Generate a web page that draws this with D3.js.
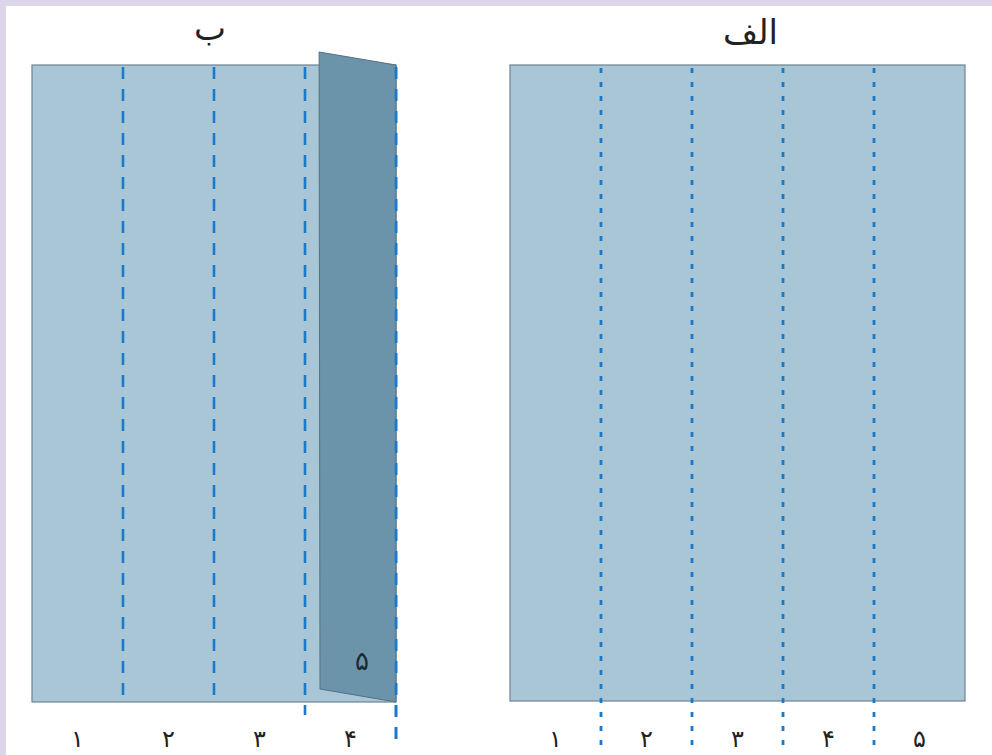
<!DOCTYPE html>
<html><head><meta charset="utf-8">
<script src="https://cdn.jsdelivr.net/npm/d3@7/dist/d3.min.js"></script>
<style>html,body{margin:0;padding:0;background:#fff;}svg{display:block;}</style>
</head><body>
<script>
// Data
const titles = ["ب", "الف"];
const leftLabels = ["۱", "۲", "۳", "۴"];
const rightLabels = ["۱", "۲", "۳", "۴", "۵"];
const foldedLabel = "۵";
const leftFoldIdx = [1, 2, 3, 4];    // fold lines on panel ب (column boundaries)
const rightFoldIdx = [1, 2, 3, 4];   // fold lines on panel الف

const W = 992, H = 755;
const svg = d3.select("body").append("svg").attr("width", W).attr("height", H);

// lavender frame
svg.append("rect").attr("x", 0).attr("y", 0).attr("width", W).attr("height", H).attr("fill", "#ddd6ea");
svg.append("rect").attr("x", 6).attr("y", 6).attr("width", W - 6).attr("height", H - 6).attr("fill", "#ffffff");

const colW = 91;
const xL = d3.scaleLinear().domain([0, 4]).range([32, 32 + 4 * colW]);
const xR = d3.scaleLinear().domain([0, 5]).range([510, 510 + 5 * colW]);
const y = d3.scaleLinear().domain([0, 1]).range([65, 702]);

const fill = "#a9c6d6", stroke = "#6e8290", dash = "#1b79c9";

// Left sheet (ب)
svg.append("rect").attr("x", xL(0)).attr("y", y(0)).attr("width", xL(4) - xL(0)).attr("height", y(1) - y(0))
  .attr("fill", fill).attr("stroke", stroke).attr("stroke-width", 1.2);

// left dashed lines
leftFoldIdx.forEach(i => {
  const yEnd = i === 4 ? 742 : (i === 3 ? 715 : y(1));
  svg.append("line").attr("x1", xL(i)).attr("x2", xL(i)).attr("y1", y(0) + 2).attr("y2", yEnd)
    .attr("stroke", dash).attr("stroke-width", 2.6).attr("stroke-dasharray", "12,10");
});

// folded panel (column 5 folded over column 4)
const p = [[xL(3.155), y(0) - 13], [xL(4), y(0)], [xL(4), y(1)], [xL(3.165), y(1) - 13]];
svg.append("polygon").attr("points", p.map(d => d.join(",")).join(" "))
  .attr("fill", "#6b94ab").attr("stroke", "#55707f").attr("stroke-width", 1);
// dashed edge re-drawn over panel's right side
svg.append("line").attr("x1", xL(4)).attr("x2", xL(4)).attr("y1", y(0) + 2).attr("y2", 742)
  .attr("stroke", dash).attr("stroke-width", 2.6).attr("stroke-dasharray", "12,10");

// Right sheet (الف)
svg.append("rect").attr("x", xR(0)).attr("y", y(0)).attr("width", xR(5) - xR(0)).attr("height", y(1) - 1 - y(0))
  .attr("fill", fill).attr("stroke", stroke).attr("stroke-width", 1.2);
rightFoldIdx.forEach(i => {
  svg.append("line").attr("x1", xR(i)).attr("x2", xR(i)).attr("y1", y(0) + 3).attr("y2", 746)
    .attr("stroke", dash).attr("stroke-width", 2.8).attr("stroke-dasharray", "5,9");
});

const font = "'DejaVu Sans', 'Noto Sans', sans-serif";
// titles
svg.append("text").attr("x", xL(2) - 4).attr("y", 40).attr("text-anchor", "middle")
  .attr("font-family", font).attr("font-size", 34).attr("fill", "#222").text(titles[0]);
svg.append("text").attr("x", (xR(0) + xR(5)) / 2 + 13).attr("y", 44).attr("text-anchor", "middle")
  .attr("font-family", font).attr("font-size", 34).attr("fill", "#222").text(titles[1]);

// bottom labels
svg.selectAll(".ll").data(leftLabels).enter().append("text")
  .attr("x", (d, i) => xL(i + 0.5)).attr("y", 747).attr("text-anchor", "middle")
  .attr("font-family", font).attr("font-size", 24).attr("fill", "#222").text(d => d);
svg.selectAll(".rl").data(rightLabels).enter().append("text")
  .attr("x", (d, i) => xR(i + 0.5)).attr("y", 747).attr("text-anchor", "middle")
  .attr("font-family", font).attr("font-size", 24).attr("fill", "#222").text(d => d);

// label on folded panel
svg.append("text").attr("x", 362).attr("y", 670).attr("text-anchor", "middle")
  .attr("font-family", font).attr("font-size", 26).attr("fill", "#1c2a33").text(foldedLabel);
</script>
</body></html>
